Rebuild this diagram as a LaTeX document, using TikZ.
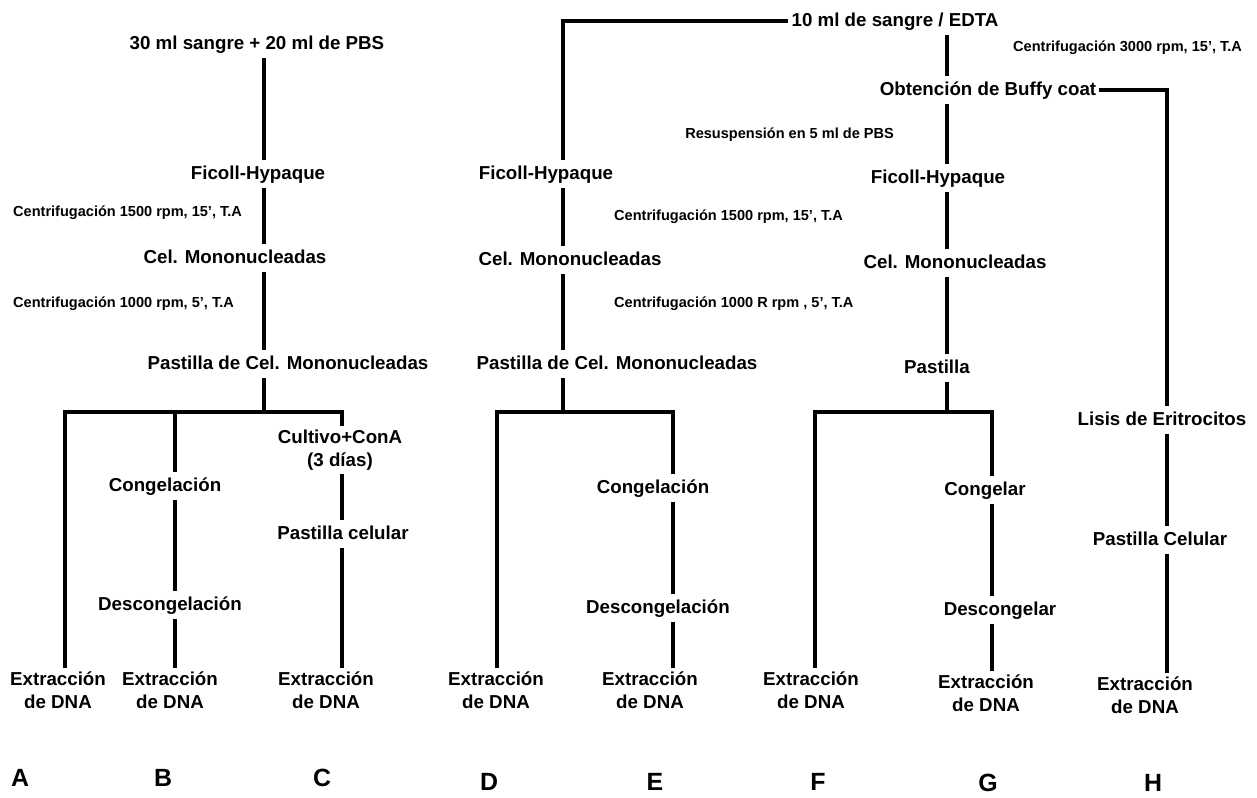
\documentclass[tikz,border=0pt]{standalone}
\usepackage{fontspec}
\setmainfont{Liberation Sans}
\begin{document}
\begin{tikzpicture}[x=1bp,y=-1bp,
  lbl/.style={font=\fontsize{18.8}{24}\selectfont\bfseries, inner xsep=3bp, inner ysep=6bp, text height=13.5bp, text depth=3bp},
  sm/.style={font=\fontsize{14.6}{17}\selectfont\bfseries, inner sep=1bp},
  two/.style={font=\fontsize{18.8}{23.5}\selectfont\bfseries, align=center, inner sep=3bp},
  letter/.style={font=\fontsize{25}{30}\selectfont\bfseries, inner sep=0pt},
  ln/.style={line width=4.5bp}
]
\useasboundingbox (0,0) rectangle (1257,798);

% ---------- Column 1 (A, B, C) ----------
\node[lbl] (src1) at (257,44) {30 ml sangre + 20 ml de PBS};
\node[lbl] (fic1) at (258,174) {Ficoll-Hypaque};
\node[sm, anchor=west] (c1a) at (12,213) {Centrifugación 1500 rpm, 15', T.A};
\node[lbl] (cel1) at (235,258) {Cel. Mononucleadas};
\node[sm, anchor=west] (c1b) at (12,304) {Centrifugación 1000 rpm, 5', T.A};
\node[lbl] (pas1) at (288,364) {Pastilla de Cel. Mononucleadas};

\node[two] (exA) at (58,690) {Extracción\\de DNA};
\node[lbl] (congB) at (165,486) {Congelación};
\node[lbl] (descB) at (170,605) {Descongelación};
\node[two] (exB) at (170,690) {Extracción\\de DNA};
\node[two] (cult) at (340,450) {Cultivo+ConA\\(3 días)};
\node[lbl] (pcel) at (343,534) {Pastilla celular};
\node[two] (exC) at (326,690) {Extracción\\de DNA};

\coordinate (t1) at (264,412);
\coordinate (xA) at (65,412);
\coordinate (xB) at (175,412);
\coordinate (xC) at (342,412);

\draw[ln] (src1.south -| t1) -- (fic1.north -| t1);
\draw[ln] (fic1.south -| t1) -- (cel1.north -| t1);
\draw[ln] (cel1.south -| t1) -- (pas1.north -| t1);
\draw[ln] (pas1.south -| t1) -- (t1);
\draw[ln] (exA.north -| xA) -- (xA) -- (xC) -- (cult.north -| xC);
\draw[ln] (xB) -- (congB.north -| xB);
\draw[ln] (congB.south -| xB) -- (descB.north -| xB);
\draw[ln] (descB.south -| xB) -- (exB.north -| xB);
\draw[ln] (cult.south -| xC) -- (pcel.north -| xC);
\draw[ln] (pcel.south -| xC) -- (exC.north -| xC);

% ---------- Top of columns 2 and 3 ----------
\node[lbl] (top) at (895,21) {10 ml de sangre / EDTA};
\node[sm, anchor=west] (c3) at (1012,48) {Centrifugación 3000 rpm, 15', T.A};
\node[lbl] (buffy) at (988,90) {Obtención de Buffy coat};
\node[sm, anchor=east] (resus) at (895,135) {Resuspensión en 5 ml de PBS};

% ---------- Column 2 (D, E) ----------
\node[lbl] (fic2) at (546,174) {Ficoll-Hypaque};
\node[sm, anchor=west] (c2a) at (613,217) {Centrifugación 1500 rpm, 15', T.A};
\node[lbl] (cel2) at (570,260) {Cel. Mononucleadas};
\node[sm, anchor=west] (c2b) at (613,304) {Centrifugación 1000 R rpm , 5', T.A};
\node[lbl] (pas2) at (617,364) {Pastilla de Cel. Mononucleadas};
\node[two] (exD) at (496,690) {Extracción\\de DNA};
\node[lbl] (congE) at (653,488) {Congelación};
\node[lbl] (descE) at (658,608) {Descongelación};
\node[two] (exE) at (650,690) {Extracción\\de DNA};

\coordinate (t2) at (563,412);
\coordinate (xD) at (497,412);
\coordinate (xE) at (673,412);

\draw[ln] (top.west) -| (fic2.north -| t2);
\draw[ln] (fic2.south -| t2) -- (cel2.north -| t2);
\draw[ln] (cel2.south -| t2) -- (pas2.north -| t2);
\draw[ln] (pas2.south -| t2) -- (t2);
\draw[ln] (exD.north -| xD) -- (xD) -- (xE) -- (congE.north -| xE);
\draw[ln] (congE.south -| xE) -- (descE.north -| xE);
\draw[ln] (descE.south -| xE) -- (exE.north -| xE);

% ---------- Column 3 (F, G) ----------
\node[lbl] (fic3) at (938,178) {Ficoll-Hypaque};
\node[lbl] (cel3) at (955,263) {Cel. Mononucleadas};
\node[lbl] (pas3) at (937,368) {Pastilla};
\node[two] (exF) at (811,690) {Extracción\\de DNA};
\node[lbl] (congG) at (985,490) {Congelar};
\node[lbl] (descG) at (1000,610) {Descongelar};
\node[two] (exG) at (986,693) {Extracción\\de DNA};

\coordinate (t3) at (947,412);
\coordinate (xF) at (815,412);
\coordinate (xG) at (992,412);

\draw[ln] (top.south -| t3) -- (buffy.north -| t3);
\draw[ln] (buffy.south -| t3) -- (fic3.north -| t3);
\draw[ln] (fic3.south -| t3) -- (cel3.north -| t3);
\draw[ln] (cel3.south -| t3) -- (pas3.north -| t3);
\draw[ln] (pas3.south -| t3) -- (t3);
\draw[ln] (exF.north -| xF) -- (xF) -- (xG) -- (congG.north -| xG);
\draw[ln] (congG.south -| xG) -- (descG.north -| xG);
\draw[ln] (descG.south -| xG) -- (exG.north -| xG);

% ---------- Column H ----------
\node[lbl] (lisis) at (1162,420) {Lisis de Eritrocitos};
\node[lbl] (pcelH) at (1160,540) {Pastilla Celular};
\node[two] (exH) at (1145,695) {Extracción\\de DNA};
\coordinate (xH) at (1167,89);

\draw[ln] (buffy.east) -| (lisis.north -| xH);
\draw[ln] (lisis.south -| xH) -- (pcelH.north -| xH);
\draw[ln] (pcelH.south -| xH) -- (exH.north -| xH);

% ---------- Letters ----------
\node[letter] (lA) at (20,778) {A};
\node[letter] (lB) at (163,778) {B};
\node[letter] (lC) at (322,778) {C};
\node[letter] (lD) at (489,782) {D};
\node[letter] (lE) at (655,782) {E};
\node[letter] (lF) at (818,782) {F};
\node[letter] (lG) at (988,783) {G};
\node[letter] (lH) at (1153,783) {H};
\end{tikzpicture}
\end{document}
